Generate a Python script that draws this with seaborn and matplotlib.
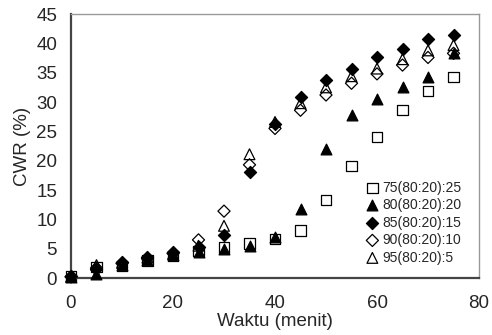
import matplotlib
matplotlib.use("Agg")
import matplotlib.pyplot as plt
import seaborn as sns
import pandas as pd

waktu = [0, 5, 10, 15, 20, 25, 30, 35, 40, 45, 50, 55, 60, 65, 70, 75]
s75 = [0.3, 1.9, 2.0, 3.0, 3.7, 4.6, 5.2, 5.9, 6.6, 8.1, 13.3, 19.1, 24.0, 28.7, 31.9, 34.3]
s80 = [0.2, 0.7, 2.3, 3.1, 4.0, 4.4, 4.9, 5.4, 7.0, 11.7, 22.0, 27.8, 30.5, 32.5, 34.3, 38.4]
s85 = [0.3, 1.5, 2.8, 3.6, 4.4, 5.3, 7.4, 18.0, 26.2, 30.9, 33.7, 35.7, 37.6, 39.1, 40.7, 41.5]
s90 = [0.2, 1.7, 2.5, 3.3, 4.2, 6.5, 11.4, 19.3, 25.5, 28.6, 31.2, 33.2, 34.8, 36.3, 37.6, 38.3]
s95 = [0.2, 2.2, 2.6, 3.5, 4.1, 5.5, 8.9, 21.1, 26.6, 29.8, 32.5, 34.4, 35.7, 37.3, 38.8, 39.7]

labels = ["75(80:20):25", "80(80:20):20", "85(80:20):15", "90(80:20):10", "95(80:20):5"]
series = [s75, s80, s85, s90, s95]
markers = ["s", "^", "D", "D", "^"]
filled = [False, True, True, False, False]
sizes = [55, 60, 38, 38, 60]

sns.set_style("white")
plt.rcParams["font.family"] = ["Liberation Sans", "DejaVu Sans"]

fig = plt.figure(figsize=(4.92, 3.35), dpi=100)
ax = fig.add_axes([0.1443, 0.1701, 0.8293, 0.7880])

for lab, vals, m, f, sz in zip(labels, series, markers, filled, sizes):
    df = pd.DataFrame({"waktu": waktu, "cwr": vals})
    sns.scatterplot(data=df, x="waktu", y="cwr", ax=ax, marker=m, s=sz,
                    facecolor="black" if f else "none", edgecolor="black",
                    linewidth=0.9, label=lab, zorder=3 if f else 2,
                    clip_on=False)

ax.set_xlim(0, 80)
ax.set_ylim(0, 45)
ax.set_xticks([0, 20, 40, 60, 80])
ax.set_yticks(range(0, 46, 5))
ax.set_xlabel("Waktu (menit)", fontsize=13.5, labelpad=1)
ax.set_ylabel("CWR (%)", fontsize=13.5, labelpad=4)
ax.tick_params(axis="both", labelsize=13.5, length=5, width=1, direction="out",
               color="#333333")
ax.tick_params(axis="y", pad=5)
ax.tick_params(axis="x", pad=7)

for side in ["left", "bottom"]:
    ax.spines[side].set_color("#444444")
    ax.spines[side].set_linewidth(1.6)
for side in ["top", "right"]:
    ax.spines[side].set_color("#999999")
    ax.spines[side].set_linewidth(1.0)

ax.legend(loc="lower right", bbox_to_anchor=(0.97, 0.03), frameon=False,
          fontsize=10, handletextpad=0.1, labelspacing=0.25,
          handlelength=1.2, borderaxespad=0)

fig.savefig("out.png", dpi=100)
